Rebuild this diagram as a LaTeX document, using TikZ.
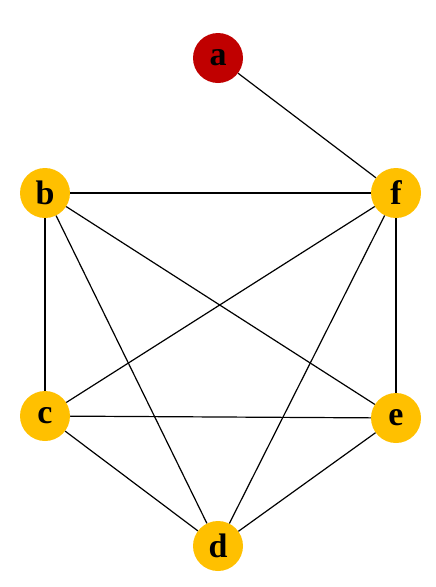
\documentclass[tikz,border=0pt]{standalone}
\usepackage{fontspec}
\setmainfont{Liberation Serif}
\definecolor{nodeyellow}{HTML}{FFC000}
\definecolor{nodered}{HTML}{C00000}
\begin{document}
\begin{tikzpicture}[x=1pt,y=-1pt,
  vtx/.style={circle,fill=nodeyellow,minimum size=50pt,inner sep=0pt,font=\fontsize{34}{34}\selectfont\bfseries},
  vtxred/.style={vtx,fill=nodered},
  edge/.style={draw=black,line width=1.2pt}]
\useasboundingbox (0,0) rectangle (436,587);
\node[vtxred] (a) at (218,58) {a};
\node[vtx] (b) at (45,193) {b};
\node[vtx] (f) at (396,193) {f};
\node[vtx] (c) at (45,416) {c};
\node[vtx] (e) at (396,418) {e};
\node[vtx] (d) at (218,546) {d};
\begin{scope}[on background layer/.style={}]
\end{scope}
\foreach \u/\v in {a/f,b/f,b/c,b/d,b/e,f/c,f/d,f/e,c/e,c/d,d/e}
  \draw[edge] (\u) -- (\v);
\end{tikzpicture}
\end{document}
